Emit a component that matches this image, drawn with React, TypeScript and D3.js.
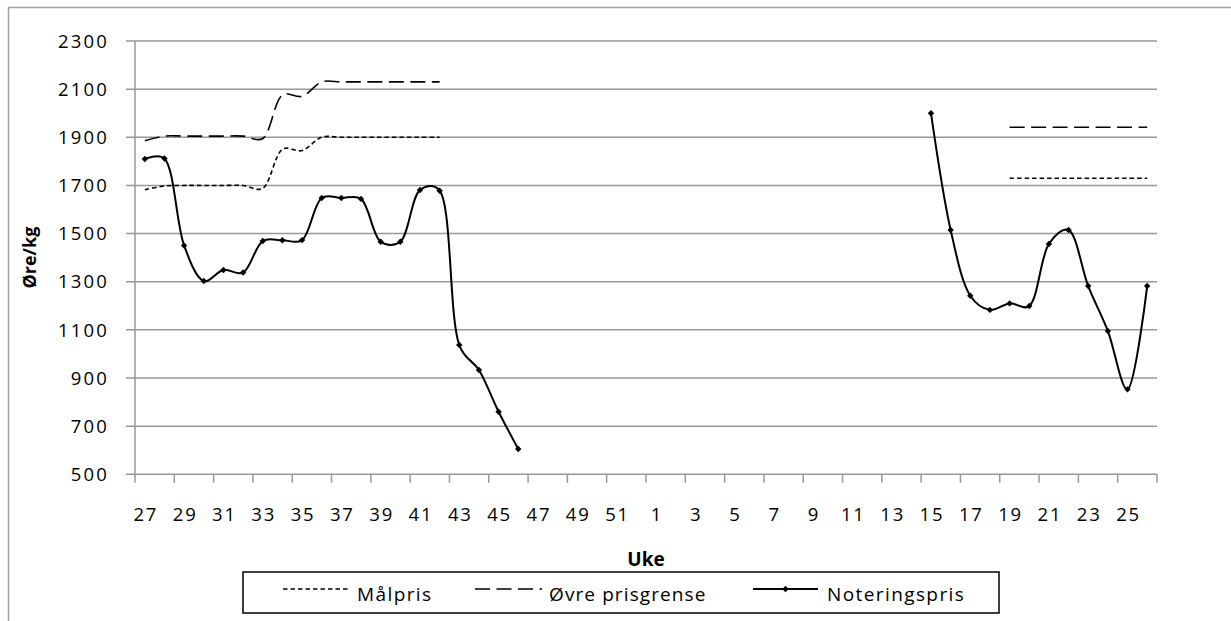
import React from "react";
import * as d3 from "d3";

const weeks: string[] = [
  "27","28","29","30","31","32","33","34","35","36","37","38","39","40","41","42","43","44","45","46","47","48","49","50","51","52",
  "1","2","3","4","5","6","7","8","9","10","11","12","13","14","15","16","17","18","19","20","21","22","23","24","25","26",
];

const N = null;
const malpris: (number | null)[] = [
  1682, 1698, 1700, 1700, 1700, 1700, 1688, 1850, 1845, 1900, 1900, 1900, 1900, 1900, 1900, 1900,
  N, N, N, N, N, N, N, N, N, N, N, N, N, N, N, N, N, N, N, N, N, N, N, N, N, N, N, N,
  1730, 1730, 1730, 1730, 1730, 1730, 1730, 1730,
];
const ovre: (number | null)[] = [
  1886, 1905, 1905, 1905, 1905, 1905, 1895, 2076, 2070, 2130, 2130, 2130, 2130, 2130, 2130, 2130,
  N, N, N, N, N, N, N, N, N, N, N, N, N, N, N, N, N, N, N, N, N, N, N, N, N, N, N, N,
  1942, 1942, 1942, 1942, 1942, 1942, 1942, 1942,
];
const notering: (number | null)[] = [
  1810, 1812, 1450, 1303, 1349, 1338, 1469, 1472, 1473, 1648, 1648, 1644, 1466, 1466, 1681, 1678,
  1037, 933, 760, 605,
  N, N, N, N, N, N, N, N, N, N, N, N, N, N, N, N, N, N, N, N,
  2000, 1515, 1242, 1183, 1210, 1199, 1457, 1515, 1282, 1095, 853, 1282,
];
const yTicks: number[] = [500, 700, 900, 1100, 1300, 1500, 1700, 1900, 2100, 2300];
const legendLabels: string[] = ["Målpris", "Øvre prisgrense", "Noteringspris"];

const FONT = "'Open Sans', 'Noto Sans', sans-serif";
const GRID = "#989898";

export default function App() {
  const left = 135, right = 1157, top = 41, bottom = 474.3;
  const x = d3.scaleBand<string>().domain(weeks).range([left, right]).padding(0);
  const y = d3.scaleLinear().domain([500, 2300]).range([bottom, top]);
  const cx = (i: number) => (x(weeks[i]) as number) + x.bandwidth() / 2;

  const line = d3
    .line<number | null>()
    .defined((d) => d != null)
    .x((_, i) => cx(i))
    .y((d) => y(d as number))
    .curve(d3.curveCatmullRom.alpha(0.4));

  const xLabelIdx = weeks.map((_, i) => i).filter((i) => i % 2 === 0);
  const tickIdx = d3.range(0, weeks.length + 1, 2);

  const diamond = (px: number, py: number, r = 3.2) =>
    `M${px},${py - r}L${px + r},${py}L${px},${py + r}L${px - r},${py}Z`;

  return (
    <svg
      width={1231}
      height={621}
      style={{ position: "absolute", left: 0, top: 0, background: "#fff" }}
      fontFamily={FONT}
    >
      <rect x={8.5} y={7.5} width={1400} height={800} fill="#fff" stroke="#a0a0a0" strokeWidth={1.5} />

      {/* gridlines */}
      {yTicks.map((t) => (
        <line key={t} x1={left - 9} x2={right} y1={y(t)} y2={y(t)} stroke={GRID} strokeWidth={1.5} />
      ))}
      {/* y axis */}
      <line x1={left} x2={left} y1={top} y2={bottom} stroke={GRID} strokeWidth={1.5} />
      {/* x ticks */}
      {tickIdx.map((i) => {
        const px = i < weeks.length ? (x(weeks[i]) as number) : right;
        return <line key={i} x1={px} x2={px} y1={bottom} y2={bottom + 8.5} stroke={GRID} strokeWidth={1.5} />;
      })}

      {/* y tick labels */}
      {yTicks.map((t) => (
        <text key={t} x={109} y={y(t)} dy="0.36em" textAnchor="end" fontSize={18.5} letterSpacing={2.2} fill="#000">
          {t}
        </text>
      ))}
      {/* x tick labels */}
      {xLabelIdx.map((i) => (
        <text key={i} x={cx(i) + 1} y={521} textAnchor="middle" fontSize={18.5} letterSpacing={1.8} fill="#000">
          {weeks[i]}
        </text>
      ))}

      {/* axis titles */}
      <text x={(left + right) / 2} y={566} textAnchor="middle" fontSize={19} fontWeight="bold" fill="#000">
        Uke
      </text>
      <text
        transform={`translate(36,${(top + bottom) / 2}) rotate(-90)`}
        textAnchor="middle"
        fontSize={18}
        fontWeight="bold"
        fill="#000"
      >
        Øre/kg
      </text>

      {/* series */}
      <path d={line(malpris) || ""} fill="none" stroke="#000" strokeWidth={1.6} strokeDasharray="4.5,3" />
      <path d={line(ovre) || ""} fill="none" stroke="#000" strokeWidth={1.6} strokeDasharray="15,6.5" />
      <path d={line(notering) || ""} fill="none" stroke="#000" strokeWidth={2} />
      {notering.map((d, i) => (d == null ? null : <path key={i} d={diamond(cx(i), y(d))} fill="#000" />))}

      {/* legend */}
      <rect x={243} y={572} width={756} height={41} fill="#fff" stroke="#000" strokeWidth={1.5} />
      <line x1={283} x2={350} y1={589} y2={589} stroke="#000" strokeWidth={1.6} strokeDasharray="4.5,3" />
      <text x={357} y={601} fontSize={19} letterSpacing={1.4} fill="#000">{legendLabels[0]}</text>
      <line x1={475} x2={542} y1={589} y2={589} stroke="#000" strokeWidth={1.6} strokeDasharray="15,6.5" />
      <text x={549} y={601} fontSize={19} letterSpacing={1.1} fill="#000">{legendLabels[1]}</text>
      <line x1={753} x2={818} y1={589} y2={589} stroke="#000" strokeWidth={2} />
      <path d={diamond(785.5, 589)} fill="#000" />
      <text x={827} y={601} fontSize={19} letterSpacing={1.4} fill="#000">{legendLabels[2]}</text>
    </svg>
  );
}
